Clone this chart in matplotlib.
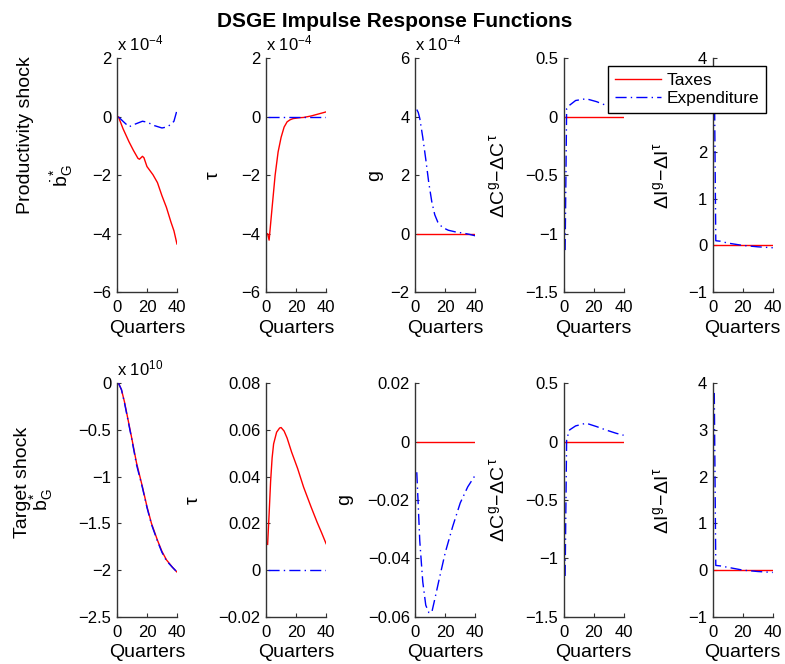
import numpy as np
import matplotlib
matplotlib.use("Agg")
import matplotlib.pyplot as plt

plt.rcParams['font.family'] = ['Liberation Sans', 'DejaVu Sans']
plt.rcParams['mathtext.fontset'] = 'custom'
plt.rcParams['mathtext.rm'] = 'Liberation Sans'
plt.rcParams['mathtext.it'] = 'Liberation Sans'
plt.rcParams['mathtext.bf'] = 'Liberation Sans:bold'

# ---- data ----
# productivity shock, b*_G (x 1e-4)
p_b_tax_q = [1, 4, 8, 11, 14, 15, 17, 18, 20, 24, 27, 30, 33, 36, 38, 40]
p_b_tax = [0, -0.4, -0.85, -1.15, -1.42, -1.45, -1.35, -1.4, -1.7, -1.98, -2.25, -2.7, -3.1, -3.6, -3.9, -4.35]
p_b_exp_q = [1, 4, 8, 12, 17, 20, 25, 30, 33, 36, 38, 40]
p_b_exp = [0, -0.15, -0.34, -0.25, -0.15, -0.18, -0.3, -0.38, -0.35, -0.26, -0.15, 0.22]

# productivity shock, tau (x 1e-4)
p_tau_tax_q = [1, 2, 4, 6, 8, 10, 12, 14, 16, 18, 22, 25, 30, 35, 40]
p_tau_tax = [-4.0, -4.22, -3.1, -2.0, -1.2, -0.7, -0.35, -0.17, -0.1, -0.06, -0.03, -0.02, 0.03, 0.1, 0.17]
p_tau_exp_q = [1, 40]
p_tau_exp = [0, 0]

# productivity shock, g (x 1e-4)
p_g_tax_q = [1, 40]
p_g_tax = [0, 0]
p_g_exp_q = [1, 2, 3, 5, 7, 9, 11, 13, 15, 18, 22, 27, 32, 36, 40]
p_g_exp = [4.25, 4.15, 3.95, 3.3, 2.55, 1.75, 1.1, 0.65, 0.4, 0.22, 0.12, 0.06, 0.02, -0.02, -0.07]

# productivity shock, dC and dI
p_c_tax_q = [1, 40]
p_c_tax = [0, 0]
p_c_exp_q = [1, 2, 4, 8, 15, 22, 28, 35, 40]
p_c_exp = [-1.14, 0.07, 0.1, 0.14, 0.155, 0.13, 0.1, 0.07, 0.05]
p_i_tax_q = [1, 40]
p_i_tax = [0, 0]
p_i_exp_q = [1, 2, 5, 10, 20, 30, 40]
p_i_exp = [3.8, 0.1, 0.09, 0.05, 0.0, -0.03, -0.05]

# target shock, b*_G (x 1e10)
t_b_tax_q = [1, 3, 5, 7, 10, 13, 17, 20, 23, 27, 30, 33, 37, 40]
t_b_tax = [0, -0.07, -0.2, -0.36, -0.6, -0.85, -1.11, -1.32, -1.5, -1.68, -1.8, -1.89, -1.97, -2.02]
t_b_exp_q = [1, 3, 5, 7, 10, 13, 17, 20, 23, 27, 30, 33, 37, 40]
t_b_exp = [0, -0.07, -0.21, -0.37, -0.61, -0.87, -1.12, -1.33, -1.51, -1.69, -1.81, -1.9, -1.97, -2.02]

# target shock, tau
t_tau_tax_q = [1, 2, 3, 4, 5, 7, 9, 10, 12, 14, 17, 21, 25, 30, 34, 37, 40]
t_tau_tax = [0.011, 0.024, 0.038, 0.048, 0.054, 0.059, 0.0608, 0.061, 0.0595, 0.0565, 0.0505,
             0.0435, 0.0355, 0.027, 0.0205, 0.016, 0.0113]
t_tau_exp_q = [1, 40]
t_tau_exp = [0, 0]

# target shock, g
t_g_tax_q = [1, 40]
t_g_tax = [0, 0]
t_g_exp_q = [1, 2, 3, 5, 7, 9, 11, 13, 16, 20, 25, 30, 35, 40]
t_g_exp = [-0.0105, -0.022, -0.034, -0.048, -0.056, -0.0585, -0.0585, -0.054, -0.047, -0.038,
           -0.029, -0.021, -0.0155, -0.0115]

# target shock, dC and dI
t_c_tax_q = [1, 40]
t_c_tax = [0, 0]
t_c_exp_q = [1, 2, 4, 8, 15, 22, 28, 35, 40]
t_c_exp = [-1.15, 0.02, 0.1, 0.134, 0.157, 0.128, 0.1, 0.071, 0.054]
t_i_tax_q = [1, 40]
t_i_tax = [0, 0]
t_i_exp_q = [1, 2, 5, 10, 20, 30, 40]
t_i_exp = [3.79, 0.1, 0.09, 0.06, 0.0, -0.03, -0.05]

ylabels = [r'$\dot{b}^{*}_{G}$', r'$\tau$', 'g', r'$\Delta C^{g}\!-\!\Delta C^{\tau}$', r'$\Delta I^{g}\!-\!\Delta I^{\tau}$']

panels = [
    # row 0
    [(p_b_tax_q, p_b_tax, p_b_exp_q, p_b_exp, (-6, 2), [-6, -4, -2, 0, 2], r'x 10$^{-4}$'),
     (p_tau_tax_q, p_tau_tax, p_tau_exp_q, p_tau_exp, (-6, 2), [-6, -4, -2, 0, 2], r'x 10$^{-4}$'),
     (p_g_tax_q, p_g_tax, p_g_exp_q, p_g_exp, (-2, 6), [-2, 0, 2, 4, 6], r'x 10$^{-4}$'),
     (p_c_tax_q, p_c_tax, p_c_exp_q, p_c_exp, (-1.5, 0.5), [-1.5, -1, -0.5, 0, 0.5], None),
     (p_i_tax_q, p_i_tax, p_i_exp_q, p_i_exp, (-1, 4), [-1, 0, 1, 2, 3, 4], None)],
    # row 1
    [(t_b_tax_q, t_b_tax, t_b_exp_q, t_b_exp, (-2.5, 0), [-2.5, -2, -1.5, -1, -0.5, 0], r'x 10$^{10}$'),
     (t_tau_tax_q, t_tau_tax, t_tau_exp_q, t_tau_exp, (-0.02, 0.08), [-0.02, 0, 0.02, 0.04, 0.06, 0.08], None),
     (t_g_tax_q, t_g_tax, t_g_exp_q, t_g_exp, (-0.06, 0.02), [-0.06, -0.04, -0.02, 0, 0.02], None),
     (t_c_tax_q, t_c_tax, t_c_exp_q, t_c_exp, (-1.5, 0.5), [-1.5, -1, -0.5, 0, 0.5], None),
     (t_i_tax_q, t_i_tax, t_i_exp_q, t_i_exp, (-1, 4), [-1, 0, 1, 2, 3, 4], None)],
]

def fmt(v):
    s = ('%g' % v)
    return s.replace('-', '\u2212')

fig = plt.figure(figsize=(7.85, 6.64), dpi=100)

lefts = [0.149, 0.339, 0.529, 0.718, 0.908]
bottoms = [0.560, 0.071]
w, h = 0.0764, 0.352
label_x = [[-0.70, -0.73, -0.53, -0.93, -0.68],
           [-1.03, -1.07, -1.03, -0.93, -0.68]]

lines = None
for r in range(2):
    for c in range(5):
        tq, tv, eq, ev, ylim, yt, expo = panels[r][c]
        ax = fig.add_axes([lefts[c], bottoms[r], w, h])
        l1, = ax.plot(tq, tv, color='red', lw=1.0, label='Taxes')
        l2, = ax.plot(eq, ev, color='blue', lw=1.0, ls='-.', dashes=(8, 3, 1, 3),
                      label='Expenditure')
        lines = [l1, l2]
        ax.set_xlim(0, 40)
        ax.set_ylim(*ylim)
        ax.set_xticks([0, 20, 40])
        ax.set_yticks(yt)
        ax.set_yticklabels([fmt(v) for v in yt])
        ax.spines['top'].set_visible(False)
        ax.spines['right'].set_visible(False)
        for s in ('left', 'bottom'):
            ax.spines[s].set_color('0.2')
            ax.spines[s].set_linewidth(1.0)
        ax.tick_params(direction='in', length=3, labelsize=12, color='0.2')
        ax.tick_params(axis='x', pad=6)
        ax.tick_params(axis='y', pad=4)
        ax.set_xlabel('Quarters', fontsize=14, labelpad=3)
        ax.set_ylabel(ylabels[c], fontsize=14)
        ax.yaxis.set_label_coords(label_x[r][c], 0.5)
        if expo:
            ax.text(0.0, 1.02, expo, transform=ax.transAxes, fontsize=12,
                    ha='left', va='bottom')

fig.text(0.503, 0.968, 'DSGE Impulse Response Functions', fontsize=15,
         fontweight='bold', ha='center', va='center')
fig.text(0.032, 0.797, 'Productivity shock', fontsize=14, rotation=90,
         ha='center', va='center')
fig.text(0.029, 0.273, 'Target shock', fontsize=14, rotation=90,
         ha='center', va='center')

leg = fig.legend(lines, ['Taxes', 'Expenditure'], loc='upper right',
                 bbox_to_anchor=(0.976, 0.9006), fontsize=12.5, frameon=True,
                 fancybox=False, borderpad=0.4, labelspacing=0.15,
                 handlelength=2.6, handletextpad=0.35, borderaxespad=0)
leg.get_frame().set_edgecolor('black')
leg.get_frame().set_linewidth(1.0)
leg.get_frame().set_alpha(1.0)

fig.savefig('out.png', dpi=100)
